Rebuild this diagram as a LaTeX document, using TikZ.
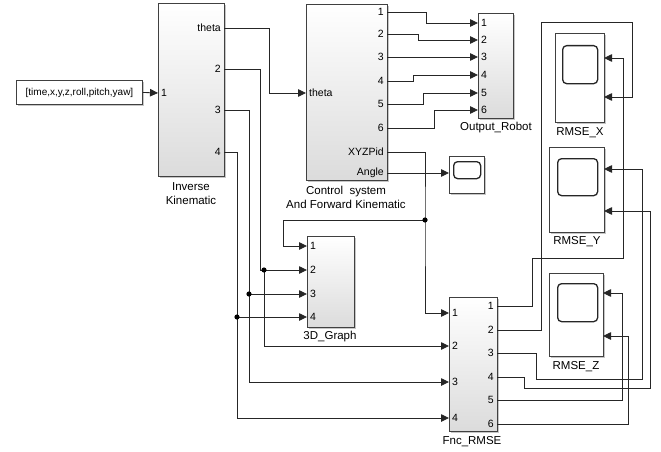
\documentclass[tikz,border=0pt]{standalone}
\usepackage{fontspec}
\setmainfont{Liberation Sans}
\usetikzlibrary{arrows.meta, shadows}

\begin{document}
\begin{tikzpicture}[x=1pt, y=-1pt,
  block/.style={draw=black!75, line width=0.9pt, top color=white, bottom color=gray!28,
    drop shadow={shadow xshift=1.3pt, shadow yshift=-1.3pt, opacity=0.45},
    anchor=north west, inner sep=0},
  scopebox/.style={block, top color=white, bottom color=white},
  scopescreen/.style={draw=black!85, line width=1.3pt, rounded corners=4pt, anchor=north west, inner sep=0},
  wire/.style={draw=black!85, line width=0.85pt, -{Triangle[length=8pt, width=7.5pt]}},
  portin/.style={anchor=west, inner sep=0, xshift=3pt, font={\fontsize{10.5}{12}\selectfont}},
  portout/.style={anchor=east, inner sep=0, xshift=-3pt, font={\fontsize{10.5}{12}\selectfont}},
  blockname/.style={align=center, inner sep=0, font={\fontsize{11.5}{14}\selectfont}}]
  \useasboundingbox (0,0) rectangle (661,452);
  % 1. Constant
  \node[block, top color=white, bottom color=white, minimum width=126pt, minimum height=24pt,
    font={\fontsize{10}{12}\selectfont}] (cst) at (16,80) {[time,x,y,z,roll,pitch,yaw]};
  % 2. Inverse Kinematic
  \node[block, minimum width=66pt, minimum height=173pt] (ik) at (158,3) {};
  \node[blockname] (ik-name) at (191,194) {Inverse\\Kinematic};
  \coordinate (ik-i1) at (158,93);
  \node[portin] (ik-l1) at (ik-i1) {1};
  \foreach \i/\y/\t in {1/28/theta, 2/69/2, 3/110/3, 4/152/4} {
    \coordinate (ik-o\i) at (224,\y);
    \node[portout] (ik-m\i) at (ik-o\i) {\t};
  }
  % 3. Control system
  \node[block, minimum width=81pt, minimum height=176pt] (cs) at (306,4) {};
  \node[blockname] (cs-name) at (346,197) {Control~ system\\And Forward Kinematic};
  \coordinate (cs-i1) at (306,93);
  \node[portin] (cs-l1) at (cs-i1) {theta};
  \foreach \i/\y/\t in {1/12/1, 2/34/2, 3/57/3, 4/81/4, 5/104/5, 6/128/6, 7/152/XYZPid, 8/173/Angle} {
    \coordinate (cs-o\i) at (387,\y);
    \node[portout] (cs-m\i) at (cs-o\i) {\t};
  }
  % 4. Output_Robot
  \node[block, minimum width=35pt, minimum height=105pt] (or) at (478,13) {};
  \node[blockname] (or-name) at (496,128) {Output\_Robot};
  \foreach \i/\y in {1/23, 2/40, 3/57, 4/75, 5/93, 6/110} {
    \coordinate (or-i\i) at (478,\y);
    \node[portin] (or-l\i) at (or-i\i) {\i};
  }
  % 5. 3D_Graph
  \node[block, minimum width=47pt, minimum height=91pt] (dg) at (307,236) {};
  \node[blockname] (dg-name) at (330,337) {3D\_Graph};
  \foreach \i/\y in {1/246, 2/270, 3/294, 4/317} {
    \coordinate (dg-i\i) at (307,\y);
    \node[portin] (dg-l\i) at (dg-i\i) {\i};
  }
  % 6. Fnc_RMSE
  \node[block, minimum width=48pt, minimum height=134pt] (fn) at (449,297) {};
  \node[blockname] (fn-name) at (472,442) {Fnc\_RMSE};
  \foreach \i/\y in {1/313, 2/346, 3/382, 4/418} {
    \coordinate (fn-i\i) at (449,\y);
    \node[portin] (fn-l\i) at (fn-i\i) {\i};
  }
  \foreach \i/\y in {1/306, 2/330, 3/353, 4/377, 5/400, 6/424} {
    \coordinate (fn-o\i) at (497,\y);
    \node[portout] (fn-m\i) at (fn-o\i) {\i};
  }
  % 7. Scopes
  \node[scopebox, minimum width=35pt, minimum height=37pt] (sc) at (449,156) {};
  \node[scopescreen, minimum width=27pt, minimum height=17pt] (sc-s) at (453,161) {};
  \coordinate (sc-i1) at (449,173);
  \node[scopebox, minimum width=49pt, minimum height=89pt] (rx) at (555,33) {};
  \node[scopescreen, minimum width=35pt, minimum height=38pt] (rx-s) at (562,45) {};
  \node[blockname] (rx-name) at (580,133) {RMSE\_X};
  \coordinate (rx-i1) at (604,58);
  \coordinate (rx-i2) at (604,97);
  \node[scopebox, minimum width=55pt, minimum height=85pt] (ry) at (549,147) {};
  \node[scopescreen, minimum width=40pt, minimum height=37pt] (ry-s) at (557,158) {};
  \node[blockname] (ry-name) at (577,242) {RMSE\_Y};
  \coordinate (ry-i1) at (604,169);
  \coordinate (ry-i2) at (604,211);
  \node[scopebox, minimum width=54pt, minimum height=83pt] (rz) at (549,273) {};
  \node[scopescreen, minimum width=40pt, minimum height=38pt] (rz-s) at (557,283) {};
  \node[blockname] (rz-name) at (576,367) {RMSE\_Z};
  \coordinate (rz-i1) at (603,293);
  \coordinate (rz-i2) at (603,336);
  % 8. Wires
  \draw[wire] (cst.east) -- (ik-i1);
  \draw[wire] (ik-o1) -- ++(45,0) |- (cs-i1);
  \foreach \i/\d in {1/39, 2/31, 3/0, 4/26, 5/36, 6/47}
    \draw[wire] (cs-o\i) -- ++(\d,0) |- (or-i\i);
  \draw[wire] (cs-o8) -- (sc-i1);
  \coordinate (j1) at (425,220);
  \coordinate (j2) at (264,270);
  \coordinate (j3) at (249,294);
  \coordinate (j4) at (237,317);
  \draw[wire] (cs-o7) -| (j1) |- (fn-i1);
  \draw[wire] (j1) -- ++(-142,0) |- (dg-i1);
  \draw[wire] (ik-o2) -- ++(36,0) |- (dg-i2);
  \draw[wire] (j2) |- (fn-i2);
  \draw[wire] (ik-o3) -| (j3) -- (dg-i3);
  \draw[wire] (j3) |- (fn-i3);
  \draw[wire] (ik-o4) -| (j4) -- (dg-i4);
  \draw[wire] (j4) |- (fn-i4);
  \foreach \j in {j1, j2, j3, j4}
    \fill[black] (\j) circle (2.6);
  % 9. RMSE wires
  \draw[wire] (fn-o1) -- ++(35,0) |- (623,258) |- (rx-i1);
  \draw[wire] (fn-o2) -- ++(44,0) |- (632,22) |- (rx-i2);
  \draw[wire] (fn-o3) -- ++(39,0) |- (642,379) |- (ry-i1);
  \draw[wire] (fn-o4) -- ++(27,0) |- (650,388) |- (ry-i2);
  \draw[wire] (fn-o5) -- ++(125,0) |- (rz-i1);
  \draw[wire] (fn-o6) -- ++(131,0) |- (rz-i2);
\end{tikzpicture}
\end{document}
